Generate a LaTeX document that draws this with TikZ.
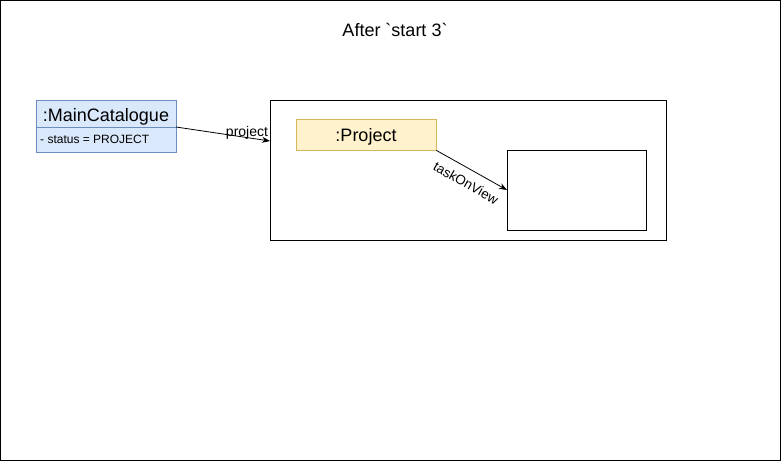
\documentclass[tikz,border=0pt]{standalone}
\usepackage{fontspec}
\setmainfont{Liberation Sans}
\newfontfamily\plainfont{Liberation Sans}
\usetikzlibrary{arrows.meta}
\definecolor{bluefill}{HTML}{DAE8FC}
\definecolor{bluedraw}{HTML}{6C8EBF}
\definecolor{yellowfill}{HTML}{FFF2CC}
\definecolor{yellowdraw}{HTML}{D6B656}
\tikzset{
  px/.style={x=1pt,y=-1pt},
  conn/.style={draw=black,line width=0.8pt,-{Stealth[length=8pt,width=6pt]}},
  lbl/.style={inner sep=0pt,font=\fontsize{14}{16}\selectfont},
  big18/.style={inner sep=0pt,anchor=base,font=\fontsize{18}{20}\selectfont},
}
\begin{document}
\begin{tikzpicture}[px]
\useasboundingbox (0,0) rectangle (781,461);
\draw[line width=0.8pt] (0.5,0.5) rectangle (780.5,460.5);
\node[inner sep=0pt,anchor=base,font=\plainfont\fontsize{18}{20}\selectfont] (title) at (395,36.7) {After `start 3`};
% MainCatalogue
\draw[draw=bluedraw,fill=bluefill,line width=0.8pt] (36,100) rectangle (176,152);
\draw[draw=bluedraw,line width=0.8pt] (36,127) -- (176,127);
\coordinate (mcNE) at (176,127);
\node[big18] (mctitle) at (106,121.5) {:MainCatalogue};
\node[inner sep=0pt,anchor=base west,font=\fontsize{12}{14}\selectfont] (mcattr) at (40,143.3) {- status = PROJECT};
% big box
\node[draw=black,line width=0.8pt,minimum width=396pt,minimum height=140pt,inner sep=0pt] (big) at (468,170) {};
% project
\node[draw=yellowdraw,fill=yellowfill,line width=0.8pt,minimum width=140pt,minimum height=31pt,inner sep=0pt] (proj) at (366,134.5) {};
\node[big18] (projtxt) at (366,141.7) {:Project};
% inner box
\node[draw=black,line width=0.8pt,minimum width=139pt,minimum height=80pt,inner sep=0pt] (inner) at (576.5,190) {};
% connectors
\coordinate (bigW) at (270,141);
\draw[conn] (mcNE) -- (bigW);
\node[lbl] (plbl) at (247,133) {project};
\coordinate (innerW) at (507,190);
\draw[conn] (proj.south east) -- (innerW);
\node[lbl,font=\fontsize{13.5}{15}\selectfont,rotate=-29.4] (tlbl) at (466,183) {taskOnView};
\end{tikzpicture}
\end{document}
